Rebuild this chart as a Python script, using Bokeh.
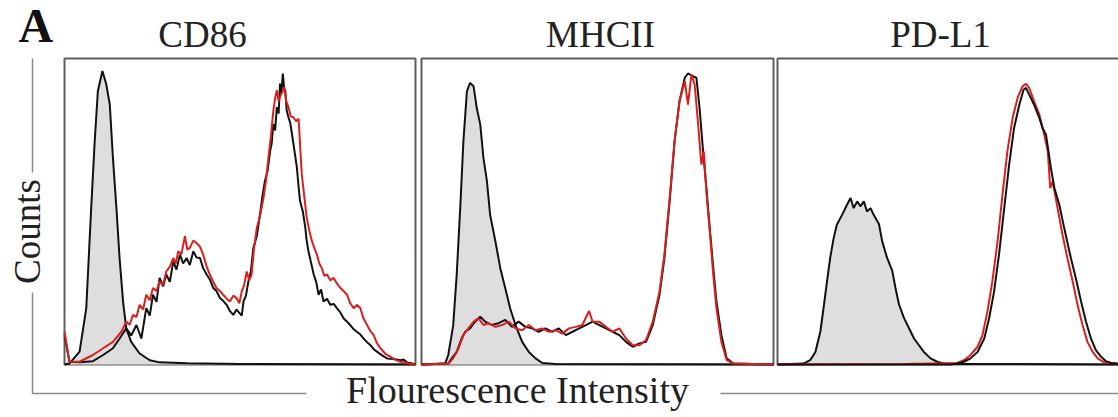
import math
from bokeh.plotting import figure
from bokeh.models import Range1d
from bokeh.core.properties import value
from bokeh.embed import file_html
from bokeh.resources import INLINE

# ---------------- text ----------------
panel_letter = "A"
panel_titles = ["CD86", "MHCII", "PD-L1"]
y_label = "Counts"
x_label = "Flourescence Intensity"

# ---------------- data (channel 0-1000, counts as % of panel max) ----------------
# CD86
cd86_iso_x = [0, 14, 43, 62, 76, 86, 95, 108, 119, 129, 138, 148, 157, 167, 176, 190, 214, 243, 271, 350, 500, 1000]
cd86_iso_y = [0, 0.3, 4.2, 18.4, 51.0, 72.9, 89.3, 95.9, 91.6, 85.0, 67.5, 51.0, 34.6, 20.4, 11.8, 7.4, 3.6, 1.4, 0.7, 0.4, 0.2, 0]

cd86_black_x = [0, 14, 43, 81, 110, 138, 157, 176, 190, 205, 219, 233, 243, 252, 262, 271, 281, 290, 300, 310,
                319, 329, 338, 348, 357, 367, 376, 386, 395, 405, 414, 424, 433, 443, 452, 462, 471, 481, 490, 495,
                505, 510, 517, 524, 531, 538, 548, 557, 564, 571, 579, 586, 590, 595, 600, 605, 610, 614, 618, 622,
                626, 629, 633, 638, 643, 648, 655, 662, 667, 671, 679, 686, 690, 695, 702, 710, 717, 724, 731, 738,
                748, 757, 767, 776, 786, 795, 805, 814, 824, 833, 843, 852, 862, 871, 881, 890, 905, 919, 938, 957,
                966, 976, 988, 1000]
cd86_black_y = [9.6, 0.9, 0.7, 1.1, 3.1, 5.3, 8.5, 11.8, 9.5, 12.9, 8.5, 18.4, 16.0, 22.8, 20.5, 28.3, 25.5, 29.4, 27.0, 33.7,
                31.0, 35.9, 33.0, 34.8, 32.5, 37.0, 35.0, 34.8, 31.5, 29.4, 27.8, 25.0, 24.0, 21.7, 20.8, 19.5, 17.5, 16.2, 18.0, 17.3,
                16.0, 20.6, 22.5, 27.2, 30.5, 38.1, 42.0, 49.1, 55.0, 60.0, 63.5, 69.9, 72.0, 78.6, 76.5, 84.1, 82.0, 91.8, 88.5, 95.1,
                90.0, 89.6, 83.0, 80.8, 79.0, 75.4, 70.0, 64.4, 58.0, 53.5, 50.0, 44.7, 40.5, 37.0, 33.5, 29.4, 27.0, 22.8, 24.5, 20.6,
                21.5, 19.5, 19.8, 18.4, 17.0, 15.1, 14.0, 12.9, 11.5, 10.7, 9.8, 8.5, 7.3, 6.4, 5.0, 4.2, 3.0, 2.0, 1.8, 1.4,
                1.6, 0.7, 0.4, 0]

cd86_red_x = [0, 14, 43, 81, 110, 138, 162, 176, 186, 195, 205, 214, 224, 233, 243, 252, 262, 271, 281, 290,
              300, 310, 317, 324, 333, 343, 350, 357, 367, 376, 386, 395, 405, 414, 424, 433, 443, 452, 462, 471,
              481, 490, 498, 505, 512, 519, 526, 533, 540, 548, 557, 567, 574, 581, 588, 595, 600, 605, 610, 614,
              620, 626, 632, 638, 645, 652, 660, 667, 672, 676, 683, 690, 698, 705, 712, 719, 726, 733, 740, 748,
              757, 767, 776, 786, 795, 805, 814, 824, 833, 843, 852, 862, 871, 881, 890, 900, 914, 929, 943, 957,
              976, 995, 1000]
cd86_red_y = [10.7, 0.9, 0.9, 3.1, 5.3, 7.4, 10.7, 14.0, 13.0, 16.2, 15.5, 19.5, 18.0, 22.8, 21.0, 25.0, 24.0, 27.2, 26.0, 30.4,
              32.0, 34.8, 33.0, 37.0, 36.0, 41.9, 37.5, 38.1, 40.5, 39.7, 38.5, 35.9, 32.0, 29.4, 27.0, 25.0, 24.0, 22.8, 21.5, 20.6,
              22.5, 21.7, 20.0, 23.9, 26.0, 30.4, 27.5, 29.4, 38.0, 44.7, 48.5, 54.5, 60.0, 67.7, 74.5, 83.0, 87.0, 89.6, 86.0, 87.4,
              89.0, 90.7, 86.0, 84.1, 81.0, 80.8, 79.5, 80.3, 70.0, 62.2, 55.0, 48.0, 43.5, 40.3, 38.0, 35.9, 33.0, 31.5, 29.0, 29.4,
              27.5, 28.3, 26.5, 25.0, 24.0, 22.8, 20.0, 18.4, 19.5, 18.4, 15.0, 12.9, 11.0, 9.6, 7.0, 5.3, 3.5, 2.5, 1.5, 0.9,
              0.5, 0, 0]

# MHCII
mhc_iso_x = [0, 67, 76, 90, 100, 110, 119, 129, 138, 148, 157, 167, 176, 186, 195, 210, 224, 238, 252, 267, 286, 305, 324, 343, 381, 1000]
mhc_iso_y = [0, 0.3, 3.1, 12.7, 29.3, 51.1, 72.9, 89.3, 92.0, 90.9, 83.8, 78.4, 67.5, 59.8, 48.9, 40.2, 31.4, 24.9, 18.3, 12.9, 7.4, 4.1, 2.0, 0.5, 0.2, 0]

mhc_black_x = [0, 76, 86, 100, 114, 124, 138, 152, 167, 181, 200, 219, 238, 257, 276, 295, 314, 333, 352, 371,
               390, 410, 429, 448, 467, 486, 505, 524, 543, 562, 581, 600, 619, 638, 657, 676, 690, 705, 719, 733,
               748, 757, 771, 781, 790, 800, 810, 819, 829, 838, 852, 867, 886, 1000]
mhc_black_y = [0, 0.3, 2.0, 4.1, 8.5, 10.7, 11.8, 14.0, 15.6, 14.0, 12.9, 13.5, 14.6, 12.3, 14.0, 12.3, 11.8, 10.7, 11.8, 10.7,
               11.8, 9.6, 10.7, 11.8, 12.9, 14.0, 12.9, 11.8, 10.7, 9.6, 7.4, 5.8, 6.9, 7.4, 12.9, 22.7, 34.7, 53.3, 73.0, 86.1,
               93.7, 95.1, 94.2, 93.7, 83.8, 69.6, 56.8, 44.5, 31.4, 20.5, 9.6, 2.0, 0.3, 0]

mhc_red_x = [0, 76, 90, 105, 119, 133, 148, 162, 176, 190, 210, 229, 248, 267, 286, 305, 324, 343, 362, 381,
             400, 419, 438, 457, 476, 486, 505, 524, 543, 562, 581, 600, 619, 638, 657, 676, 690, 705, 719, 733,
             748, 757, 767, 776, 786, 795, 802, 810, 819, 829, 838, 852, 867, 886, 1000]
mhc_red_y = [0, 0.3, 2.0, 5.2, 9.6, 11.8, 14.0, 15.1, 12.9, 13.5, 12.3, 12.9, 14.0, 11.8, 11.2, 12.9, 11.2, 11.8, 10.7, 11.2,
             10.1, 11.8, 12.3, 12.9, 17.5, 14.0, 14.0, 12.3, 10.7, 11.8, 8.5, 6.3, 6.3, 8.0, 14.0, 23.8, 35.8, 54.4, 73.0, 86.1,
             92.6, 84.9, 94.8, 91.5, 78.4, 65.3, 69.6, 55.5, 43.4, 29.3, 18.3, 7.4, 1.4, 0.3, 0]

# PD-L1
pdl1_iso_x = [0, 74, 93, 108, 122, 131, 141, 150, 160, 169, 184, 198, 208, 217, 227, 236, 246, 255, 265, 274,
              289, 298, 312, 327, 336, 346, 360, 374, 389, 403, 417, 436, 455, 474, 512, 1000]
pdl1_iso_y = [0, 0.3, 1.4, 4.1, 10.7, 18.3, 27.1, 34.8, 41.3, 45.7, 48.9, 52.2, 54.4, 51.1, 53.3, 51.7, 53.3, 50.0, 51.1, 48.9,
              45.9, 40.4, 34.9, 30.6, 25.1, 19.7, 15.3, 12.0, 8.5, 6.3, 4.1, 2.0, 0.9, 0.3, 0.2, 0]

pdl1_black_x = [0, 493, 512, 531, 550, 570, 589, 603, 617, 631, 646, 660, 674, 689, 701, 708, 717, 731, 746, 755,
                765, 779, 789, 803, 817, 836, 850, 865, 879, 893, 907, 922, 936, 950, 973, 1000]
pdl1_black_y = [0, 0, 0.3, 0.9, 2.0, 4.1, 8.5, 15.1, 23.8, 35.8, 51.1, 65.3, 77.3, 84.9, 89.8, 90.4, 88.2, 84.9, 80.6, 77.3,
                75.1, 64.2, 57.6, 52.2, 44.5, 34.7, 28.2, 20.5, 14.0, 8.5, 4.7, 2.5, 1.1, 0.5, 0.2, 0]

pdl1_red_x = [0, 360, 512, 531, 550, 570, 584, 598, 612, 627, 641, 655, 670, 684, 698, 708, 717, 731, 746, 760,
              770, 777, 784, 798, 812, 826, 841, 855, 869, 883, 898, 912, 931, 973, 1000]
pdl1_red_y = [0, 0.2, 0.5, 1.4, 3.1, 5.8, 9.6, 17.2, 27.1, 40.2, 55.5, 69.7, 80.6, 87.1, 90.9, 91.7, 90.4, 86.0, 81.7, 75.1,
              69.7, 57.6, 59.8, 51.1, 42.4, 34.7, 27.1, 19.4, 12.9, 7.4, 4.1, 2.0, 0.7, 0.2, 0]

# ---------------- layout (page pixels) ----------------
W, H = 1118, 417
OX, OY = 0, 0
XMAX, YMAX = 1000, 100
FRAME_TOP, FRAME_BOTTOM = 58, 364
FRAMES = [(64, 415), (421, 773), (777, 1128)]
TITLE_X = [202, 600, 940]
TITLE_Y = 34
SERIF = value("Liberation Serif")

GRAY_FILL = "#dedede"
BLACK = "#111111"
RED = "#d8201e"
FRAME_COL = "#5e5e5e"
BRACKET_COL = "#8a8a8a"

p = figure(width=W, height=H, output_backend="svg", toolbar_location=None,
           x_range=Range1d(OX, OX + W), y_range=Range1d(OY + H, OY),
           min_border=0, outline_line_color=None, background_fill_color="white",
           border_fill_color="white")
p.xaxis.visible = False
p.yaxis.visible = False
p.grid.visible = False

xr, yr = {}, {}
for i, (L, R) in enumerate(FRAMES):
    span = XMAX * W / (R - L)
    s = -(L - OX) / (R - L) * XMAX
    xr[f"x{i}"] = Range1d(s, s + span)
    yspan = YMAX * H / (FRAME_BOTTOM - FRAME_TOP)
    ys = -((OY + H) - FRAME_BOTTOM) / (FRAME_BOTTOM - FRAME_TOP) * YMAX
    yr[f"y{i}"] = Range1d(ys, ys + yspan)
p.extra_x_ranges = xr
p.extra_y_ranges = yr

panels = [
    (cd86_iso_x, cd86_iso_y, cd86_black_x, cd86_black_y, cd86_red_x, cd86_red_y, True),
    (mhc_iso_x, mhc_iso_y, mhc_black_x, mhc_black_y, mhc_red_x, mhc_red_y, True),
    (pdl1_iso_x, pdl1_iso_y, pdl1_black_x, pdl1_black_y, pdl1_red_x, pdl1_red_y, False),
]

for i, (gx, gy, bx, by, rx, ry, red_on_top) in enumerate(panels):
    kw = dict(x_range_name=f"x{i}", y_range_name=f"y{i}")
    p.quad(left=[0], right=[XMAX], bottom=[0], top=[YMAX], fill_alpha=0,
           line_color=FRAME_COL, line_width=2, **kw)
    p.varea(x=gx, y1=[0] * len(gx), y2=gy, fill_color=GRAY_FILL, **kw)
    p.line(gx, gy, line_color=BLACK, line_width=2, **kw)
    if red_on_top:
        p.line(bx, by, line_color=BLACK, line_width=2, **kw)
        p.line(rx, ry, line_color=RED, line_width=2, **kw)
    else:
        p.line(rx, ry, line_color=RED, line_width=2, **kw)
        p.line(bx, by, line_color=BLACK, line_width=2, **kw)
    p.text(x=[TITLE_X[i]], y=[TITLE_Y], text=[panel_titles[i]], text_font=SERIF,
           text_font_size="37px", text_align="center", text_baseline="alphabetic",
           text_color="#222222")

# panel letter
p.text(x=[18], y=[25], text=[panel_letter], text_font=SERIF, text_font_size="48px",
       text_font_style="bold", text_align="left", text_baseline="alphabetic", text_color="#111111")

# Counts bracket and axis caption
p.line([32, 32], [FRAME_TOP, 172], line_color=BRACKET_COL, line_width=1.5)
p.line([32, 32, 306], [292, 393, 393], line_color=BRACKET_COL, line_width=1.5)
p.line([720, 1118], [393, 393], line_color=BRACKET_COL, line_width=1.5)
p.text(x=[27], y=[231], text=[y_label], text_font=SERIF, text_font_size="37px",
       text_align="center", text_baseline="middle", angle=math.pi / 2, text_color="#222222")
p.text(x=[517], y=[389], text=[x_label], text_font=SERIF, text_font_size="38px",
       text_align="center", text_baseline="alphabetic", text_color="#222222")

open("out.html", "w").write(file_html(p, INLINE))
